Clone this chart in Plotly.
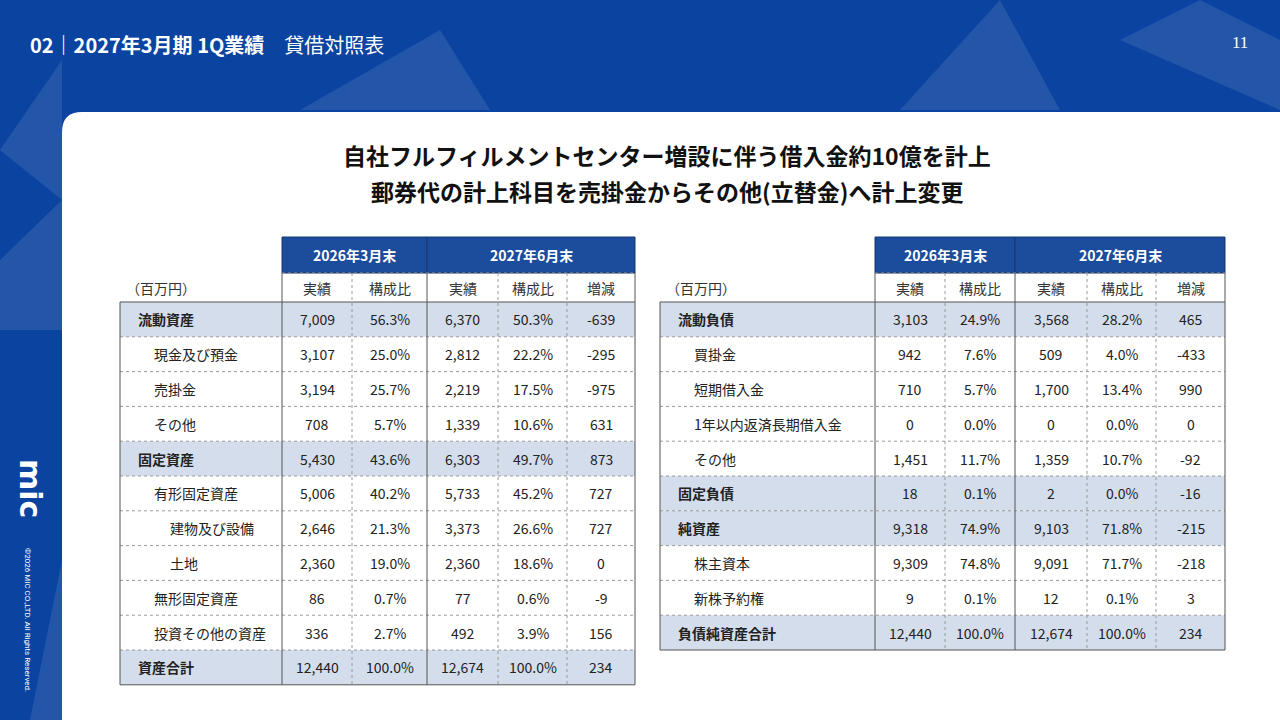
import plotly.graph_objects as go

# 資産の部
left_labels = ["流動資産", "現金及び預金", "売掛金", "その他", "固定資産", "有形固定資産",
               "建物及び設備", "土地", "無形固定資産", "投資その他の資産", "資産合計"]
left_level = [0, 1, 1, 1, 0, 1, 2, 2, 1, 1, 0]
left_a26 = ["7,009", "3,107", "3,194", "708", "5,430", "5,006", "2,646", "2,360", "86", "336", "12,440"]
left_r26 = ["56.3%", "25.0%", "25.7%", "5.7%", "43.6%", "40.2%", "21.3%", "19.0%", "0.7%", "2.7%", "100.0%"]
left_a27 = ["6,370", "2,812", "2,219", "1,339", "6,303", "5,733", "3,373", "2,360", "77", "492", "12,674"]
left_r27 = ["50.3%", "22.2%", "17.5%", "10.6%", "49.7%", "45.2%", "26.6%", "18.6%", "0.6%", "3.9%", "100.0%"]
left_diff = ["-639", "-295", "-975", "631", "873", "727", "727", "0", "-9", "156", "234"]

# 負債・純資産の部
right_labels = ["流動負債", "買掛金", "短期借入金", "1年以内返済長期借入金", "その他", "固定負債",
                "純資産", "株主資本", "新株予約権", "負債純資産合計"]
right_level = [0, 1, 1, 1, 1, 0, 0, 1, 1, 0]
right_a26 = ["3,103", "942", "710", "0", "1,451", "18", "9,318", "9,309", "9", "12,440"]
right_r26 = ["24.9%", "7.6%", "5.7%", "0.0%", "11.7%", "0.1%", "74.9%", "74.8%", "0.1%", "100.0%"]
right_a27 = ["3,568", "509", "1,700", "0", "1,359", "2", "9,103", "9,091", "12", "12,674"]
right_r27 = ["28.2%", "4.0%", "13.4%", "0.0%", "10.7%", "0.0%", "71.8%", "71.7%", "0.1%", "100.0%"]
right_diff = ["465", "-433", "990", "0", "-92", "-16", "-215", "-218", "3", "234"]

periods = ["2026年3月末", "2027年6月末"]
sub_heads = ["実績", "構成比", "実績", "構成比", "増減"]

FONT = "Noto Sans CJK JP"
BLUE = "#0B43A0"
HEAD = "#1C4C9C"
FILL = "#D3DDEB"
GRID = "#9A9A9A"

shapes = []
ann = []

# 背景
shapes.append(dict(type="rect", x0=0, x1=1280, y0=0, y1=720, fillcolor=BLUE, line_width=0, layer="below"))
for pts in ["M 300,110 L 440,30 L 490,110 Z", "M 900,110 L 1000,0 L 1060,110 Z",
            "M 1120,40 L 1200,0 L 1280,40 L 1280,110 Z", "M 0,260 L 62,200 L 62,330 L 0,330 Z",
            "M 0,150 L 62,60 L 62,200 Z", "M 30,720 L 62,560 L 62,720 Z"]:
    shapes.append(dict(type="path", path=pts, fillcolor="rgba(255,255,255,0.10)", line_width=0, layer="below"))
shapes.append(dict(type="path", path="M 62,720 L 62,132 Q 62,112 82,112 L 1280,112 L 1280,720 Z",
                   fillcolor="white", line_width=0, layer="below"))

ann.append(dict(x=28, y=44, text="<b>02｜2027年3月期 1Q業績</b>　貸借対照表", showarrow=False,
                xanchor="left", font=dict(family=FONT, size=20, color="white")))
ann.append(dict(x=1250, y=42, text="11", showarrow=False, xanchor="right",
                font=dict(family="Liberation Serif", size=17, color="white")))
ann.append(dict(x=31, y=488, text="<b>mic</b>", showarrow=False, textangle=90,
                font=dict(family="DejaVu Sans", size=30, color="white")))
ann.append(dict(x=28, y=620, text="©2026 MIC CO.,LTD. All Rights Reserved.", showarrow=False, textangle=90,
                font=dict(family="Roboto", size=8, color="white")))
ann.append(dict(x=667, y=155, text="<b>自社フルフィルメントセンター増設に伴う借入金約10億を計上</b>", showarrow=False,
                font=dict(family=FONT, size=23, color="#111")))
ann.append(dict(x=667, y=191, text="<b>郵券代の計上科目を売掛金からその他(立替金)へ計上変更</b>", showarrow=False,
                font=dict(family=FONT, size=23, color="#111")))

RH = 34.8


def table(x_lab, cols, labels, levels, a26, r26, a27, r27, diff):
    top, sub, body = 237, 273, 302
    n = len(labels)
    bottom = body + n * RH
    # 期間ヘッダー
    for i, (c0, c1) in enumerate([(cols[0], cols[2]), (cols[2], cols[5])]):
        shapes.append(dict(type="rect", x0=c0, x1=c1, y0=top, y1=sub, fillcolor=HEAD,
                           line=dict(color="#16386e", width=1)))
        ann.append(dict(x=(c0 + c1) / 2, y=(top + sub) / 2, text="<b>" + periods[i] + "</b>", showarrow=False,
                        font=dict(family=FONT, size=14, color="white")))
    ann.append(dict(x=x_lab + 4, y=(sub + body) / 2, text="（百万円）", showarrow=False, xanchor="left",
                    font=dict(family=FONT, size=14, color="#333")))
    for j, h in enumerate(sub_heads):
        ann.append(dict(x=(cols[j] + cols[j + 1]) / 2, y=(sub + body) / 2, text=h, showarrow=False,
                        font=dict(family=FONT, size=14, color="#333")))
    # 行
    for i in range(n):
        y0 = body + i * RH
        y1 = y0 + RH
        if levels[i] == 0:
            shapes.append(dict(type="rect", x0=x_lab, x1=cols[5], y0=y0, y1=y1, fillcolor=FILL, line_width=0))
        txt = "<b>" + labels[i] + "</b>" if levels[i] == 0 else labels[i]
        ann.append(dict(x=x_lab + 16 + levels[i] * 16, y=(y0 + y1) / 2, text=txt, showarrow=False,
                        xanchor="left", font=dict(family=FONT, size=14, color="#222")))
        for j, v in enumerate([a26[i], r26[i], a27[i], r27[i], diff[i]]):
            ann.append(dict(x=(cols[j] + cols[j + 1]) / 2, y=(y0 + y1) / 2, text=v, showarrow=False,
                            font=dict(family=FONT, size=14, color="#222")))
        if i > 0:
            shapes.append(dict(type="line", x0=x_lab, x1=cols[5], y0=y0, y1=y0,
                               line=dict(color=GRID, width=1, dash="dot")))
    # 罫線
    shapes.append(dict(type="line", x0=cols[0], x1=cols[5], y0=sub, y1=sub, line=dict(color=GRID, width=1, dash="dot")))
    for k in [1, 3, 4]:
        shapes.append(dict(type="line", x0=cols[k], x1=cols[k], y0=sub, y1=bottom,
                           line=dict(color=GRID, width=1, dash="dot")))
    for k in [0, 2]:
        shapes.append(dict(type="line", x0=cols[k], x1=cols[k], y0=sub, y1=bottom, line=dict(color="#555", width=1)))
    shapes.append(dict(type="line", x0=cols[5], x1=cols[5], y0=sub, y1=body, line=dict(color="#555", width=1)))
    shapes.append(dict(type="rect", x0=x_lab, x1=cols[5], y0=body, y1=bottom, line=dict(color="#555", width=1)))


table(120, [282, 352, 427, 498, 567, 635], left_labels, left_level, left_a26, left_r26, left_a27, left_r27, left_diff)
table(660, [875, 945, 1015, 1087, 1156, 1225], right_labels, right_level, right_a26, right_r26, right_a27,
      right_r27, right_diff)

fig = go.Figure()
fig.update_layout(
    width=1280, height=720, margin=dict(l=0, r=0, t=0, b=0),
    paper_bgcolor=BLUE, plot_bgcolor="white", showlegend=False,
    xaxis=dict(range=[0, 1280], visible=False, fixedrange=True),
    yaxis=dict(range=[720, 0], visible=False, fixedrange=True),
    shapes=shapes, annotations=ann,
)
fig.write_html("out.html", config={"displayModeBar": False},
               post_script="document.body.style.margin='0';document.body.style.overflow='hidden';")
